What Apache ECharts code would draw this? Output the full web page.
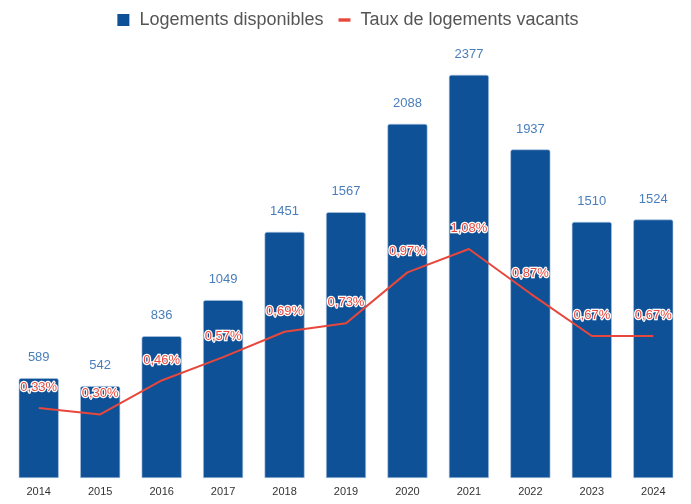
<!DOCTYPE html>
<html><head><meta charset="utf-8">
<script src="https://cdn.jsdelivr.net/npm/echarts@6/dist/echarts.min.js"></script>
<style>html,body{margin:0;padding:0;background:#fff}#c{width:691px;height:504px}</style>
</head><body><div id="c"></div>
<script>
const years = ['2014','2015','2016','2017','2018','2019','2020','2021','2022','2023','2024'];
const logements = [589,542,836,1049,1451,1567,2088,2377,1937,1510,1524];
const taux = [0.33,0.30,0.46,0.57,0.69,0.73,0.97,1.08,0.87,0.67,0.67];

const chart = echarts.init(document.getElementById('c'));
chart.setOption({
  animation:false,
  textStyle:{fontFamily:'Arial, "Liberation Sans", sans-serif'},
  legend:{top:6,left:'center',itemGap:10,itemWidth:22,itemHeight:12,
    textStyle:{fontSize:18,color:'#555'},
    data:[{name:'Logements disponibles',icon:'path://M0,0 M22,12 M5,0 L17,0 L17,12 L5,12 Z',itemStyle:{borderWidth:0,color:'#0f5196'}},
          {name:'Taux de logements vacants',icon:'path://M0,0 M22,12 M5,4.3 L17,4.3 L17,7.7 L5,7.7 Z',itemStyle:{color:'#e8473c',borderWidth:0}}]},
  grid:{left:8,right:7,top:54,bottom:26,containLabel:false},
  xAxis:{type:'category',data:years,axisLine:{show:false},axisTick:{show:false},
    axisLabel:{color:'#333',fontSize:11,margin:8}},
  yAxis:[{type:'value',min:0,max:2500,show:false,splitLine:{show:false}},
         {type:'value',min:0,max:2,show:false,splitLine:{show:false}}],
  series:[
    {name:'Logements disponibles',type:'bar',data:logements,barWidth:40,
      itemStyle:{color:'#0f5196',borderRadius:[2,2,0,0],borderColor:'#aec8e4',borderWidth:0.6},
      label:{show:true,position:'top',distance:14,color:'#4a7ebb',fontSize:13}},
    {name:'Taux de logements vacants',type:'line',yAxisIndex:1,data:taux,
      symbol:'circle',symbolSize:0.01,showSymbol:true,
      lineStyle:{color:'#e8473c',width:2},itemStyle:{color:'#e8473c'},
      label:{show:true,position:'top',distance:14,color:'#e8473c',fontSize:13,
        textBorderColor:'#fff',textBorderWidth:2.5,
        formatter:p=>p.value.toFixed(2).replace('.',',')+'%'}}
  ]
});
</script></body></html>
